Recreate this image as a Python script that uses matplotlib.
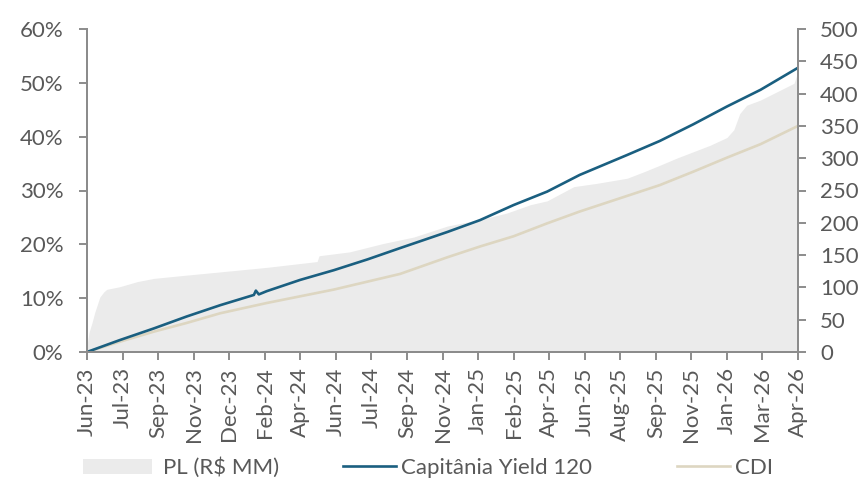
import matplotlib.pyplot as plt
from matplotlib.patches import Patch
from matplotlib.lines import Line2D
from matplotlib.ticker import PercentFormatter

plt.rcParams['font.family'] = ['Lato', 'DejaVu Sans']

# business-day index, one label every 36 days
tick_labels = ['Jun-23', 'Jul-23', 'Sep-23', 'Nov-23', 'Dec-23', 'Feb-24', 'Apr-24',
               'Jun-24', 'Jul-24', 'Sep-24', 'Nov-24', 'Jan-25', 'Feb-25', 'Apr-25',
               'Jun-25', 'Aug-25', 'Sep-25', 'Nov-25', 'Jan-26', 'Mar-26', 'Apr-26']
tick_step = 36

# cumulative return, %
yield_days = [0, 33, 68, 101, 135, 169, 171, 174, 182, 216, 250, 284, 317, 365,
              398, 432, 466, 499, 547, 580, 614, 648, 682, 720]
yield_120 = [0, 2.2, 4.4, 6.6, 8.7, 10.6, 11.4, 10.7, 11.3, 13.4, 15.2, 17.2, 19.3, 22.3,
             24.5, 27.3, 29.8, 32.9, 36.6, 39.2, 42.3, 45.6, 48.7, 52.8]

cdi_days = [0, 33, 68, 101, 135, 182, 250, 317, 365, 398, 432, 466, 499, 547,
            580, 614, 648, 682, 720]
cdi = [0, 1.9, 3.8, 5.4, 7.2, 9.1, 11.6, 14.5, 17.6, 19.6, 21.5, 23.9, 26.1, 29.0,
       31.0, 33.5, 36.1, 38.6, 42.0]

# fund size, R$ MM
pl_days = [0, 2, 5, 8, 13, 17, 20, 33, 51, 68, 101, 135, 182, 233, 235, 266, 300, 331,
           347, 365, 398, 425, 449, 466, 493, 516, 547, 564, 580, 597, 614, 631, 648,
           655, 661, 668, 682, 699, 716, 720]
pl_mm = [10, 30, 45, 62, 85, 93, 97, 101, 109, 114, 119, 124, 131, 140, 149, 155, 168, 178,
         186, 195, 205, 215, 228, 234, 256, 261, 269, 279, 289, 300, 310, 320, 332,
         344, 369, 382, 390, 403, 416, 435]

text_color = '#595959'
axis_color = '#8c8c8c'
blue = '#1a5f80'
beige = '#ddd6c1'
gray = '#ebebeb'
fs = 16

fig = plt.figure(figsize=(8.68, 4.8), dpi=100)
ax_pl = fig.add_axes([87 / 868, 1 - 352 / 480, 711 / 868, 323 / 480])
ax = ax_pl.twinx()

ax_pl.fill_between(pl_days, pl_mm, color=gray, lw=0)
ax.plot(cdi_days, cdi, color=beige, lw=1.9, solid_capstyle='butt')
ax.plot(yield_days, yield_120, color=blue, lw=1.9, solid_capstyle='butt')

ax_pl.set_xlim(0, len(tick_labels) * tick_step - tick_step)
ax_pl.set_ylim(0, 500)
ax.set_ylim(0, 60)

ax_pl.set_xticks(range(0, len(tick_labels) * tick_step, tick_step))
ax_pl.set_xticklabels(tick_labels, rotation=90)
ax_pl.set_yticks(range(0, 501, 50))
ax.set_yticks(range(0, 61, 10))
ax.yaxis.set_major_formatter(PercentFormatter(xmax=100, decimals=0))

# percent on the left, fund size on the right
ax.yaxis.tick_left()
ax_pl.yaxis.tick_right()

for a in (ax, ax_pl):
    a.spines['top'].set_visible(False)
    for s in ('left', 'right', 'bottom'):
        a.spines[s].set_color(axis_color)
        a.spines[s].set_linewidth(1.4)
    a.tick_params(colors=axis_color, labelcolor=text_color, labelsize=fs,
                  length=6, width=1.4, direction='out')
ax.tick_params(axis='y', pad=11)
ax_pl.tick_params(axis='y', pad=10)
ax_pl.tick_params(axis='x', pad=5)

# one legend per entry so each handle gets its own width
entries = [
    (Patch(facecolor=gray, edgecolor='none'), 'PL (R$ MM)', 83, 3.1, 0.5),
    (Line2D([], [], color=blue, lw=1.9), 'Capitânia Yield 120', 343, 2.4, 0.22),
    (Line2D([], [], color=beige, lw=1.9), 'CDI', 677, 2.4, 0.22),
]
for handle, label, x0, hlen, pad in entries:
    fig.legend([handle], [label], loc='center left',
               bbox_to_anchor=(x0 / 868, 12 / 480), frameon=False, fontsize=fs,
               labelcolor=text_color, handlelength=hlen, handletextpad=pad,
               borderpad=0, borderaxespad=0)

fig.savefig('out.png', dpi=100)
